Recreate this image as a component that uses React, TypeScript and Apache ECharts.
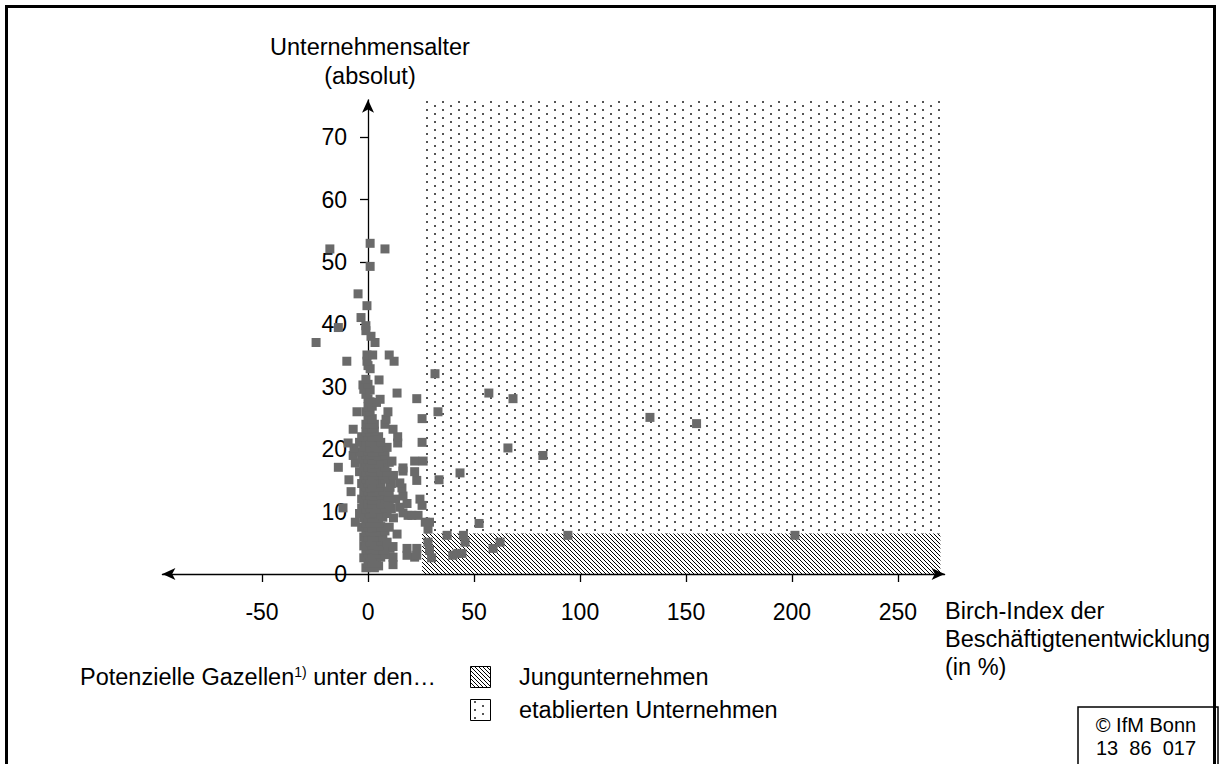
import React, { useEffect, useRef } from "react";
import * as echarts from "echarts";

// ---------- data ----------
const xTickValues = [-50, 0, 50, 100, 150, 200, 250];
const yTickValues = [0, 10, 20, 30, 40, 50, 60, 70];
const xRange = [-97, 272];
const yRange = [0, 76];
const gazelleThreshold = 25.5; // Birch-Index threshold of "potential gazelles"
const youngAgeLimit = 6.5; // age limit of young companies
const regionXMax = 270;
const regionYMax = 76;

const xAxisTitle = ["Birch-Index der", "Beschäftigtenentwicklung", "(in %)"];
const yAxisTitle = ["Unternehmensalter", "(absolut)"];
const legendIntro = "Potenzielle Gazellen{sup|1)} unter den…";
const legendLabels = ["Jungunternehmen", "etablierten Unternehmen"];
const sourceNote = ["© IfM Bonn", "13  86  017"];

// [Birch-Index in %, company age in years]
const firms: [number, number][] = [
  [-1, 1], [1, 1.2], [3, 1], [5, 1.3], [11.8, 1.5],
  [0, 1.8], [2, 2], [4, 1.8],
  [-2, 2.6], [1, 2.8], [3, 2.6], [6, 2.7], [11.8, 2.7], [22, 2.7], [30, 2.6],
  [0, 3.3], [2, 3.4], [5, 3.2], [8, 3.1], [18.4, 3], [23, 3], [40, 3],
  [-1, 3.9], [1, 4], [4, 3.8], [7, 3.9], [10.4, 4.1], [18.4, 4.1], [23, 4.1], [29, 3.8], [42, 3.3], [44.3, 3.3],
  [-2, 4.5], [2, 4.6], [5, 4.5], [11.8, 4.4], [59, 4.1],
  [-1, 5.1], [1, 5.2], [3, 5], [6, 5.3], [9, 5.1], [28.3, 5.1], [45.8, 5.1], [62.3, 5.1],
  [-2, 5.9], [0, 6], [2, 6.1], [4, 5.9], [7, 6], [13.7, 6.4], [37.3, 6.2], [45, 6.2], [94.3, 6.2], [201.4, 6.2],
  [-1, 6.8], [1, 6.9], [3, 6.7], [5, 6.8], [8, 6.9], [28.3, 7.2],
  [-3, 7.5], [0, 7.6], [2, 7.4], [4, 7.5], [6, 7.6], [10, 7.5],
  [-6, 8.3], [-1, 8.2], [1, 8.3], [3, 8.1], [5, 8.2], [27, 8.3], [29, 8.3], [52.4, 8.1],
  [-2, 9], [0, 9.1], [2, 8.9], [4, 9], [7, 9.1], [12, 9],
  [-4, 9.7], [1, 9.6], [3, 9.8], [6, 9.5], [9, 9.7], [16.5, 9.8], [18.9, 9.4], [20.7, 9.4], [23.6, 9.4],
  [-11.8, 10.6], [-3, 10.5], [-1, 10.4], [1, 10.6], [3, 10.5], [5, 10.4], [8, 10.6], [11, 10.5], [15, 10.7],
  [-2, 11.3], [0, 11.2], [2, 11.4], [4, 11.3], [6, 11.2], [10, 11.3], [18.4, 11.3], [25.5, 11],
  [-3, 12], [0, 12.1], [2, 11.9], [5, 12], [8, 12.1], [13, 12], [24.5, 12],
  [-1, 12.6], [1, 12.7], [3, 12.5], [6, 12.6], [9.4, 12.3], [16.5, 12.5],
  [-8, 13.2], [-2, 13.2], [0, 13.3], [2, 13.1], [4, 13.2], [7, 13.3], [10, 13.2],
  [-1, 13.9], [1, 13.8], [3, 14], [5, 13.9], [10.4, 13.9], [16, 13.8],
  [-3, 14.5], [0, 14.6], [2, 14.4], [4, 14.5], [6, 14.6], [11, 14.5], [15, 14.6],
  [-9, 15.1], [-1, 15.2], [1, 15], [3, 15.1], [8, 15.2], [23, 15], [33.5, 15.1],
  [-2, 15.8], [0, 15.9], [2, 15.7], [5, 15.8], [7, 15.9], [12, 15.8],
  [-4, 16.4], [-1, 16.3], [1, 16.5], [3, 16.3], [6, 16.4], [9, 16.3], [16.5, 16.5], [22, 16.4], [43.4, 16.2],
  [-14, 17.1], [-2, 17.1], [0, 17.2], [2, 17], [4, 17.1], [8, 17.2], [16.5, 17],
  [-6, 17.8], [-1, 17.8], [1, 17.9], [3, 17.7], [5, 17.8], [10, 17.9],
  [-3, 18.4], [0, 18.5], [2, 18.3], [6, 18.4], [11.3, 18.1], [22, 18.1], [26, 18.1],
  [-7, 19], [-1, 19.1], [1, 19], [3, 19.1], [5, 18.9], [8, 19], [82.5, 19],
  [-4, 19.6], [0, 19.7], [2, 19.6], [4, 19.5], [7, 19.7],
  [-6.6, 20.2], [-2, 20.3], [1, 20.2], [3, 20.4], [5, 20.2], [9, 20.3], [66, 20.2],
  [-9.4, 21], [-4, 21.1], [-1, 21], [1, 21.2], [3, 21], [6, 21.1], [14, 21], [25.5, 21.1],
  [-3, 22], [0, 22.1], [2, 21.9], [5, 22], [14, 22],
  [-1, 22.8], [1, 22.7], [3, 22.9],
  [-7, 23.2], [0, 23.3], [2, 23.4], [11.8, 23.2],
  [-1, 24], [1, 24.1], [3, 24], [8, 24], [155, 24.1],
  [0, 24.8], [2, 24.9], [8.5, 24.8], [25.5, 24.9], [133, 25.1],
  [-5.2, 26], [-1, 26], [1, 26.1], [9.4, 26], [33, 26],
  [0, 26.8], [2, 26.9],
  [1, 27.6], [4, 27.5],
  [0, 28.1], [5.7, 28], [23, 28.1], [68.4, 28.1],
  [-1, 28.8], [13.7, 29], [57, 29],
  [-2, 29.6], [1, 29.5],
  [-2.4, 30.3], [0, 30.4],
  [-1, 31.2], [5.2, 31.1],
  [31.6, 32.1],
  [1, 32.9],
  [0, 33.4],
  [-10, 34.1], [-0.5, 34.1], [12.3, 34.1],
  [-0.5, 35.1], [2.2, 35.1], [10, 35.1],
  [-24.5, 37.1], [3.3, 37.1],
  [1.4, 38.1],
  [-1, 39],
  [-14, 39.5], [-1, 39.8],
  [-3.3, 41.1],
  [-0.5, 43],
  [-4.7, 44.9],
  [1, 49.3],
  [-18, 52.1], [8, 52.1],
  [1, 53],
];

// ---------- style ----------
const FONT = "'Liberation Sans', Arial, Helvetica, sans-serif";
const FS = 23.5;
const TICK_FS = 23;
const GRID_LEFT = 162.4;
const GRID_RIGHT = 275.4;
const CHART_W = 1220;

function makeHatch(): HTMLCanvasElement {
  const c = document.createElement("canvas");
  c.width = 4;
  c.height = 4;
  const ctx = c.getContext("2d")!;
  ctx.fillStyle = "#000";
  for (let i = 0; i < 4; i++) ctx.fillRect(i, i, 1, 1);
  return c;
}

function makeDots(): HTMLCanvasElement {
  const c = document.createElement("canvas");
  c.width = 16;
  c.height = 8;
  const ctx = c.getContext("2d")!;
  ctx.fillStyle = "#555";
  ctx.fillRect(2, 1, 2, 2);
  ctx.fillRect(10, 5, 2, 2);
  return c;
}

export default function App() {
  const ref = useRef<HTMLDivElement>(null);

  useEffect(() => {
    if (!ref.current) return;
    const chart = echarts.init(ref.current, undefined, { renderer: "svg" });
    const hatch = { image: makeHatch(), repeat: "repeat" };
    const dots = { image: makeDots(), repeat: "repeat" };

    // place the y axis at x = 0 (axis crossing)
    const gridW = CHART_W - GRID_LEFT - GRID_RIGHT;
    const yAxisOffset = -((0 - xRange[0]) / (xRange[1] - xRange[0])) * gridW;

    const txt = (x: number, y: number, text: string, extra: any = {}) => ({
      type: "text",
      x,
      y,
      silent: true,
      style: {
        text,
        fontSize: FS,
        fontFamily: FONT,
        fill: "#000",
        align: "left",
        verticalAlign: "middle",
        ...extra,
      },
    });

    const option: any = {
      animation: false,
      backgroundColor: "#fff",
      grid: { left: GRID_LEFT, right: GRID_RIGHT, top: 99.8, bottom: 190, containLabel: false },
      xAxis: {
        type: "value",
        min: xRange[0],
        max: xRange[1],
        axisLine: {
          onZero: true,
          symbol: ["arrow", "arrow"],
          symbolSize: [9, 13],
          lineStyle: { color: "#000", width: 1.3 },
        },
        axisTick: { show: true, length: 8, customValues: xTickValues, lineStyle: { color: "#000", width: 1.3 } },
        axisLabel: {
          customValues: xTickValues,
          margin: 26,
          fontSize: TICK_FS,
          fontFamily: FONT,
          color: "#000",
        },
        splitLine: { show: false },
      },
      yAxis: {
        type: "value",
        min: yRange[0],
        max: yRange[1],
        offset: yAxisOffset,
        axisLine: {
          onZero: false,
          symbol: ["none", "arrow"],
          symbolSize: [9, 13],
          lineStyle: { color: "#000", width: 1.3 },
        },
        axisTick: {
          show: true,
          length: 8,
          customValues: yTickValues.filter((v) => v > 0),
          lineStyle: { color: "#000", width: 1.3 },
        },
        axisLabel: {
          customValues: yTickValues,
          margin: 21,
          fontSize: TICK_FS,
          fontFamily: FONT,
          color: "#000",
        },
        splitLine: { show: false },
      },
      series: [
        {
          type: "scatter",
          data: [],
          z: 1,
          silent: true,
          markArea: {
            silent: true,
            itemStyle: { borderWidth: 0 },
            data: [
              [
                { coord: [gazelleThreshold, youngAgeLimit], itemStyle: { color: dots, opacity: 1 } },
                { coord: [regionXMax, regionYMax] },
              ],
              [
                { coord: [gazelleThreshold, 0], itemStyle: { color: hatch, opacity: 1 } },
                { coord: [regionXMax, youngAgeLimit] },
              ],
            ],
          },
        },
        {
          type: "scatter",
          z: 3,
          symbol: "rect",
          symbolSize: 9,
          itemStyle: { color: "#6a6a6a", opacity: 1 },
          data: firms,
        },
      ],
      graphic: [
        {
          type: "rect",
          silent: true,
          shape: { x: 6.5, y: 6.5, width: 1208, height: 800 },
          style: { fill: "none", stroke: "#000", lineWidth: 3 },
        },
        {
          type: "rect",
          silent: true,
          shape: { x: 1078, y: 707, width: 140, height: 80 },
          style: { fill: "none", stroke: "#000", lineWidth: 1.5 },
        },
        txt(370, 47, yAxisTitle[0], { align: "center" }),
        txt(370, 76, yAxisTitle[1], { align: "center" }),
        txt(945, 611, xAxisTitle[0]),
        txt(945, 639, xAxisTitle[1]),
        txt(945, 667, xAxisTitle[2]),
        txt(80, 677, legendIntro, {
          rich: { sup: { fontSize: 14, fontFamily: FONT, fill: "#000", verticalAlign: "top" } },
        }),
        {
          type: "rect",
          silent: true,
          shape: { x: 470.5, y: 666.5, width: 20, height: 21 },
          style: { fill: hatch, stroke: "#000", lineWidth: 1 },
        },
        {
          type: "rect",
          silent: true,
          shape: { x: 470.5, y: 699.5, width: 20, height: 21 },
          style: { fill: dots, stroke: "#000", lineWidth: 1 },
        },
        txt(519, 677, legendLabels[0]),
        txt(519, 710, legendLabels[1]),
        txt(1146, 725, sourceNote[0], { align: "center", fontSize: 20 }),
        txt(1146, 748, sourceNote[1], { align: "center", fontSize: 20 }),
      ],
    };

    chart.setOption(option);
    return () => chart.dispose();
  }, []);

  return (
    <div
      ref={ref}
      style={{ position: "fixed", left: 0, top: 0, width: 1220, height: 764, background: "#fff" }}
    />
  );
}
